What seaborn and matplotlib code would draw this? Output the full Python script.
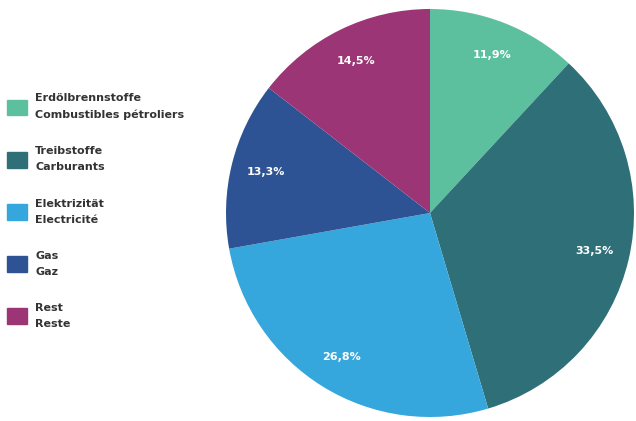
import matplotlib
matplotlib.use("Agg")
import matplotlib.pyplot as plt
import matplotlib.patches as mpatches
import numpy as np
import seaborn as sns

sns.set_theme(style="white")
plt.rcParams['font.family'] = ['DejaVu Sans']

labels = ["Erdölbrennstoffe\nCombustibles pétroliers",
          "Treibstoffe\nCarburants",
          "Elektrizität\nElectricité",
          "Gas\nGaz",
          "Rest\nReste"]
values = [11.9, 33.5, 26.8, 13.3, 14.5]
pct_labels = ["11,9%", "33,5%", "26,8%", "13,3%", "14,5%"]
colors = ["#5cc09e", "#2e6f78", "#36a7dd", "#2d5394", "#9b3575"]

fig = plt.figure(figsize=(6.36, 4.21), dpi=100)
fig.patch.set_facecolor("white")
ax = fig.add_axes([226/636, 4/421, 408/636, 408/421])
wedges, _ = ax.pie(values, colors=colors, startangle=90, counterclock=False,
                   radius=1, wedgeprops=dict(linewidth=0))
for w, v, t in zip(wedges, values, pct_labels):
    mid = np.deg2rad((w.theta1 + w.theta2) / 2)
    ax.text(0.83*np.cos(mid), 0.83*np.sin(mid), t, ha="center", va="center",
            color="white", fontsize=8, fontweight="semibold")
ax.set_xlim(-1, 1)
ax.set_ylim(-1, 1)
ax.set_aspect("equal")
ax.axis("off")

handles = [mpatches.Patch(color=c) for c in colors]
leg = fig.legend(handles, labels, loc="upper left",
                 bbox_to_anchor=(3/636, 1 - 89/421),
                 frameon=False, fontsize=8, handlelength=1.75, handleheight=1.75,
                 handletextpad=0.75, labelspacing=2.35, borderaxespad=0, borderpad=0.4)
for t in leg.get_texts():
    t.set_fontweight("semibold")
    t.set_color("#333333")
    t.set_linespacing(1.75)

fig.savefig("out.png", dpi=100)
